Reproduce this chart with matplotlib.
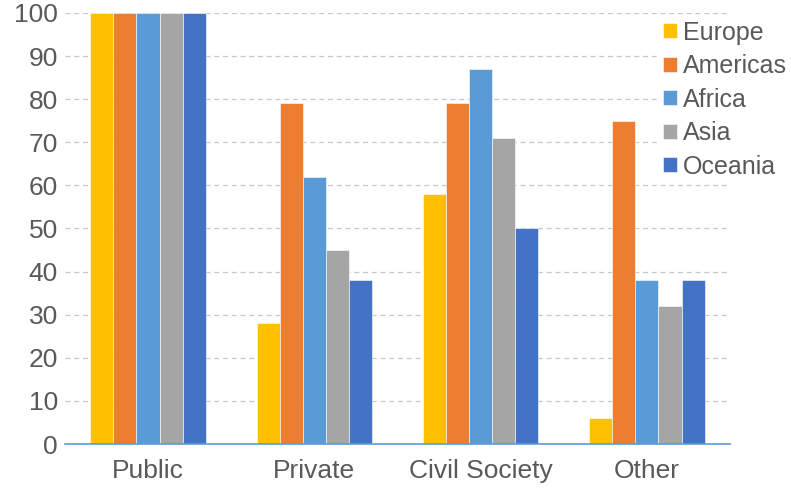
import matplotlib
matplotlib.use("Agg")
from matplotlib import pyplot as plt
import numpy as np

plt.rcParams['font.family'] = ['Liberation Sans', 'DejaVu Sans']

# data
categories = ["Public", "Private", "Civil Society", "Other"]
regions = ["Europe", "Americas", "Africa", "Asia", "Oceania"]
europe = [100, 28, 58, 6]
americas = [100, 79, 79, 75]
africa = [100, 62, 87, 38]
asia = [100, 45, 71, 32]
oceania = [100, 38, 50, 38]
colors = ["#FFC000", "#ED7D31", "#5B9BD5", "#A5A5A5", "#4472C4"]

series = [europe, americas, africa, asia, oceania]

fig = plt.figure(figsize=(7.91, 4.91), dpi=100)
ax = fig.add_axes([0.082, 0.0957, 0.841, 0.878])

x = np.arange(len(categories))
width = 0.139
for i, (vals, name, c) in enumerate(zip(series, regions, colors)):
    ax.bar(x + (i - 2) * width, vals, width=width, color=c, label=name,
           edgecolor="white", linewidth=0.4, zorder=2)

ax.set_xlim(-0.5, 3.5)
ax.set_ylim(0, 100)
ax.set_yticks(range(0, 101, 10))
ax.set_xticks(x)
ax.set_xticklabels(categories)
ax.tick_params(axis="both", length=0, labelsize=19, colors="#595959")
ax.tick_params(axis="x", pad=11)
ax.tick_params(axis="y", pad=5)
ax.yaxis.grid(True, linestyle=(0, (4, 3)), color="#C8C8C8", linewidth=0.9, zorder=0)
ax.set_axisbelow(True)
for s in ["top", "right", "left"]:
    ax.spines[s].set_visible(False)
ax.spines["bottom"].set_color("#5B9BD5")
ax.spines["bottom"].set_linewidth(1.2)

leg = fig.legend(loc="upper left", bbox_to_anchor=(0.832, 0.968), fontsize=18,
                 frameon=True, facecolor="white", edgecolor="none", framealpha=1,
                 handlelength=0.55, handleheight=0.55, handletextpad=0.25,
                 labelspacing=0.38, borderpad=0.2, borderaxespad=0)
for t in leg.get_texts():
    t.set_color("#595959")

plt.savefig("out.png", dpi=100)
